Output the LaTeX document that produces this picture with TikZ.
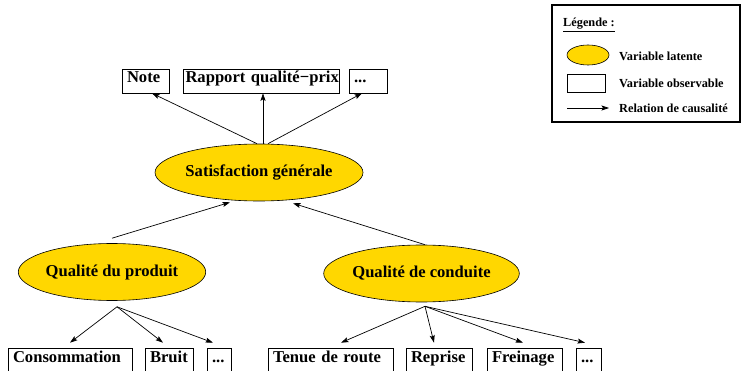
\documentclass[tikz,border=0pt]{standalone}
\usepackage{fontspec}
\setmainfont{Liberation Serif}
\usetikzlibrary{arrows.meta,calc,shapes.geometric}
\definecolor{latent}{HTML}{FFD700}
\begin{document}
\begin{tikzpicture}[x=1pt,y=-1pt,
  lat/.style={ellipse,draw,line width=0.6pt,fill=latent,minimum width=180pt,minimum height=57pt,inner sep=0pt,font=\fontsize{16.6}{19}\selectfont\bfseries},
  obs/.style={rectangle,draw,line width=0.6pt,inner xsep=5pt,inner ysep=2pt,text height=12pt,text depth=8pt,align=left,font=\fontsize{16.6}{19}\selectfont\bfseries},
  cause/.style={-{Stealth[length=7.5pt,width=5pt,inset=1.5pt]},line width=0.7pt},
  leg/.style={font=\fontsize{12.3}{14}\selectfont\bfseries,anchor=base west,inner sep=0pt}]
\useasboundingbox (0,0) rectangle (743,371);

% latent variables
\node[lat] (sat) at (259,172.5) {Satisfaction générale};
\node[lat] (prod) at (112,272) {Qualité du produit};
\node[lat] (cond) at (421.5,273.5) {Qualité de conduite};

% top observable variables
\node[obs,text width=37pt] (note) at (145.5,81) {\mbox{Note}};
\node[obs,inner xsep=2.5pt,text width=151pt] (rap) at (261,81) {\mbox{Rapport qualité−prix}};
\node[obs,text width=28pt] (dotsa) at (368,81) {\mbox{...}};

% bottom observable variables
\node[obs,text width=114pt] (cons) at (70,360) {\mbox{Consommation}};
\node[obs,text width=38pt] (bruit) at (169,360) {\mbox{Bruit}};
\node[obs,text width=14pt] (dotsb) at (219,360) {\mbox{...}};
\node[obs,text width=115pt] (tenue) at (330.5,360) {\mbox{Tenue de route}};
\node[obs,text width=56pt] (rep) at (439,360) {\mbox{Reprise}};
\node[obs,text width=65pt] (frein) at (524.5,360) {\mbox{Freinage}};
\node[obs,text width=15pt] (dotsc) at (588.5,360) {\mbox{...}};

% arrows from general satisfaction
\draw[cause] ([xshift=-2pt]sat.north) -- ([xshift=6.5pt]note.south);
\draw[cause] ([xshift=4pt]sat.north) -- ([xshift=2pt]rap.south);
\draw[cause] ([xshift=9pt]sat.north) -- ([xshift=-6pt]dotsa.south);

% arrows to general satisfaction
\draw[cause] ([yshift=5pt]prod.north) -- ([xshift=-29pt,yshift=-1pt]sat.south);
\draw[cause] ([xshift=3.5pt]cond.north) -- ([xshift=34pt,yshift=-2pt]sat.south);

% arrows from product quality
\coordinate (pb) at ([xshift=5pt,yshift=-6pt]prod.south);
\draw[cause] (pb) -- ([yshift=5pt]cons.north);
\draw[cause] (pb) -- ([xshift=-6pt,yshift=5pt]bruit.north);
\draw[cause] (pb) -- ([xshift=-6pt,yshift=5pt]dotsb.north);

% arrows from driving quality
\coordinate (cb) at ([xshift=3.5pt,yshift=-4pt]cond.south);
\draw[cause] (cb) -- ([xshift=10.5pt,yshift=5pt]tenue.north);
\draw[cause] (cb) -- ([xshift=-5pt,yshift=5pt]rep.north);
\draw[cause] (cb) -- ([xshift=-1.5pt,yshift=5pt]frein.north);
\draw[cause] (cb) -- ([xshift=-3.5pt,yshift=5pt]dotsc.north);

% legend
\node[draw,line width=1.3pt,minimum width=188pt,minimum height=117pt,inner sep=0pt] (legbox) at (646,63.5) {};
\node[leg] (legt) at (563,26.7) {\underline{Légende :}};
\node[ellipse,draw,line width=0.6pt,fill=latent,minimum width=42pt,minimum height=20pt,inner sep=0pt] (lell) at (588,55) {};
\node[draw,line width=0.6pt,minimum width=38pt,minimum height=18pt,inner sep=0pt] (lrect) at (586,83) {};
\coordinate (la) at (567,108);
\coordinate (lb) at (609,108);
\draw[cause] (la) -- (lb);
\node[leg] (l1) at (619,60.5) {Variable latente};
\node[leg] (l2) at (619,88) {Variable observable};
\node[leg] (l3) at (619,112.5) {Relation de causalité};
\end{tikzpicture}
\end{document}
